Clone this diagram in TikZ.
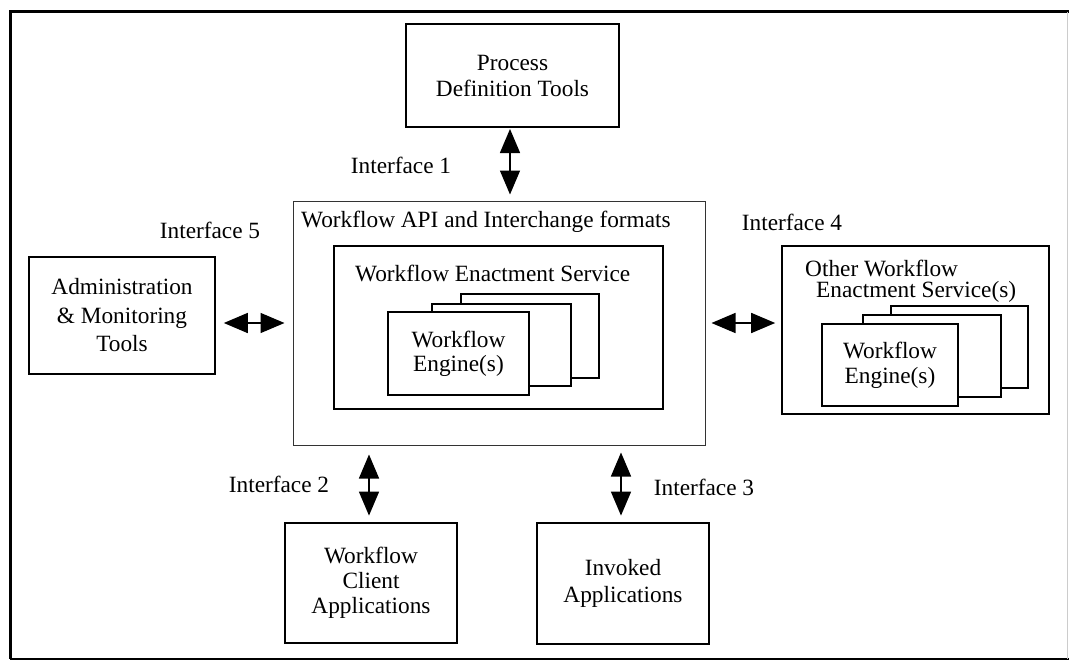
\documentclass[tikz,border=0pt]{standalone}
\usepackage{fontspec}
\setmainfont{Liberation Serif}
\usetikzlibrary{arrows.meta}
\begin{document}
\begin{tikzpicture}[x=1pt,y=-1pt,
  txt/.style={font=\fontsize{23.3}{26}\selectfont, inner sep=0pt},
  box/.style={draw, line width=#1, fill=white, inner sep=0pt, align=center,
              font=\fontsize{23.3}{26}\selectfont},
  biarrow/.style={line width=1.5pt, {Triangle[length=24pt,width=20pt]}-{Triangle[length=24pt,width=20pt]}}
]
\useasboundingbox (0,0) rectangle (1069,661);
% outer frame
\draw[line width=3pt] (1069,12) -- (10,12) -- (10,659);
\draw[line width=2pt] (10,659) -- (1069,659);
\draw[line width=0.8pt, gray!40] (1067,12) -- (1067,659);

% Process definition tools
\node[box=2pt, minimum width=213pt, minimum height=103pt] (pdt) at (512.5,75.5) {Process\\Definition Tools};

% main box
\node[box=1pt, draw=black!80, minimum width=412pt, minimum height=244pt] (main) at (499,323) {};
\node[txt, anchor=west] (maint) at (301,222) {Workflow API and Interchange formats};
\node[box=1.6pt, minimum width=329pt, minimum height=163pt] (wes) at (498.5,327.5) {};
\node[txt, anchor=west] (west) at (355,273) {Workflow Enactment Service};
\node[box=1.4pt, minimum width=138pt, minimum height=84pt] (e3) at (530,336) {};
\node[box=1.4pt, minimum width=139pt, minimum height=82pt] (e2) at (501.5,345) {};
\node[box=1.4pt, minimum width=141pt, minimum height=83pt, font=\fontsize{23.3}{24}\selectfont] (e1) at (458.5,353.5) {Workflow\\Engine(s)};

% admin
\node[box=1.6pt, minimum width=186pt, minimum height=117pt, font=\fontsize{23.3}{28.5}\selectfont] (adm) at (122,315.5) {Administration\\\& Monitoring\\Tools};

% other
\node[box=1.6pt, minimum width=267pt, minimum height=168pt] (oth) at (915.5,330) {};
\node[txt, anchor=west] (otht1) at (805,268) {Other Workflow};
\node[txt, anchor=west] (otht2) at (816,292) {Enactment Service(s)};
\node[box=1.6pt, minimum width=137pt, minimum height=82pt] (o3) at (959.5,347) {};
\node[box=1.6pt, minimum width=138pt, minimum height=82pt] (o2) at (932,356) {};
\node[box=1.4pt, minimum width=136pt, minimum height=82pt, font=\fontsize{23.3}{25}\selectfont] (o1) at (890,365) {Workflow\\Engine(s)};

% client & invoked
\node[box=2.8pt, minimum width=172pt, minimum height=120pt, font=\fontsize{23.3}{25}\selectfont] (cli) at (371,583) {Workflow\\Client\\Applications};
\node[box=2.8pt, minimum width=172pt, minimum height=121pt, font=\fontsize{23.3}{27}\selectfont] (inv) at (623,583.5) {Invoked\\Applications};

% interface labels
\node[txt] (i1) at (401,165) {Interface 1};
\node[txt] (i5) at (210,230) {Interface 5};
\node[txt] (i4) at (792,222) {Interface 4};
\node[txt] (i2) at (279,484) {Interface 2};
\node[txt] (i3) at (704,487) {Interface 3};

% arrows
\coordinate (y5) at (0,323);
\draw[biarrow, shorten <=1pt, shorten >=6pt] ([xshift=-2.5pt]pdt.south) -- ([xshift=-2.5pt]pdt.south |- main.north);
\draw[biarrow, shorten <=8pt, shorten >=8pt] (adm.east |- y5) -- (main.west |- y5);
\draw[biarrow, shorten <=6pt, shorten >=6pt] (main.east |- y5) -- (oth.west |- y5);
\draw[biarrow, shorten <=9pt, shorten >=6pt] ([xshift=-2pt]cli.north |- main.south) -- ([xshift=-2pt]cli.north);
\draw[biarrow, shorten <=7pt, shorten >=6pt] ([xshift=-2pt]inv.north |- main.south) -- ([xshift=-2pt]inv.north);
\end{tikzpicture}
\end{document}
